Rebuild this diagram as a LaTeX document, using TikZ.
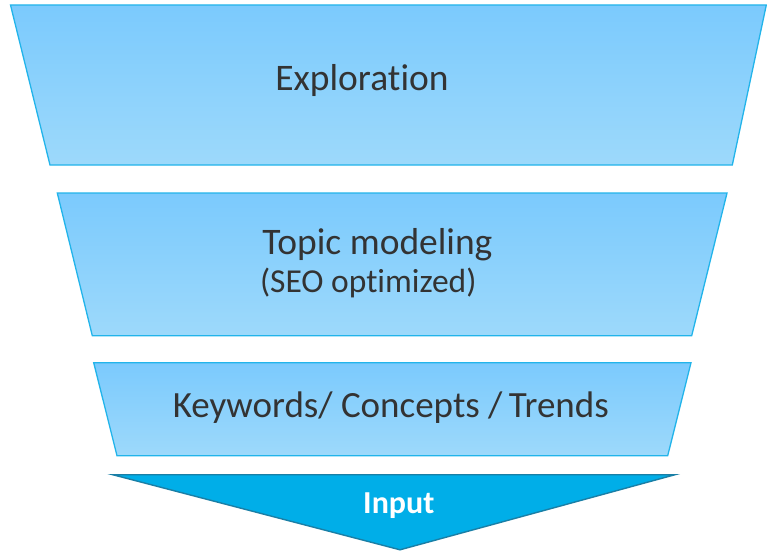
\documentclass[tikz,border=0pt]{standalone}
\usepackage{fontspec}
\setmainfont{Carlito}[Ligatures={NoCommon}]
\definecolor{trtop}{HTML}{7BCAFD}
\definecolor{trbot}{HTML}{9DD9FB}
\definecolor{trline}{HTML}{22B4EA}
\definecolor{infill}{HTML}{00AEE8}
\definecolor{inline}{HTML}{1A7FA6}
\definecolor{txt}{HTML}{333333}
\begin{document}
\begin{tikzpicture}[x=1pt,y=-1pt,
  tier/.style={top color=trtop,bottom color=trbot,draw=trline,line width=1.3pt,line join=miter},
  big/.style={font=\fontsize{37.5}{40}\selectfont,text=txt,inner sep=0pt,anchor=base},
  small/.style={font=\fontsize{33.5}{36}\selectfont,text=txt,inner sep=0pt,anchor=base}]
\useasboundingbox (0,0) rectangle (767,551);
\path[tier] (10.5,5) -- (766.3,5) -- (732.3,165) -- (50,165) -- cycle;
\path[tier] (57.3,193) -- (727,193) -- (691.7,335.7) -- (92.3,335.7) -- cycle;
\path[tier] (93.7,362.7) -- (691,362.7) -- (667.7,455.7) -- (117,455.7) -- cycle;
\path[fill=infill,draw=inline,line width=1.4pt,line join=miter] (112.7,474.7) -- (675,474.7) -- (400,549.8) -- cycle;
\node[big] (explo) at (362,90.7) {Exploration};
\node[big] (topic) at (377.5,254) {Topic modeling};
\node[small] (seo) at (368.3,292.7) {(SEO optimized)};
\node[big,font=\fontsize{37}{40}\selectfont] (kw) at (390.8,417.3) {Keywords/ Concepts /\kern-2pt\ Trends};
\node[small,text=white,font=\fontsize{32}{36}\selectfont\bfseries] (inp) at (398.8,513.3) {Input};
\end{tikzpicture}
\end{document}
